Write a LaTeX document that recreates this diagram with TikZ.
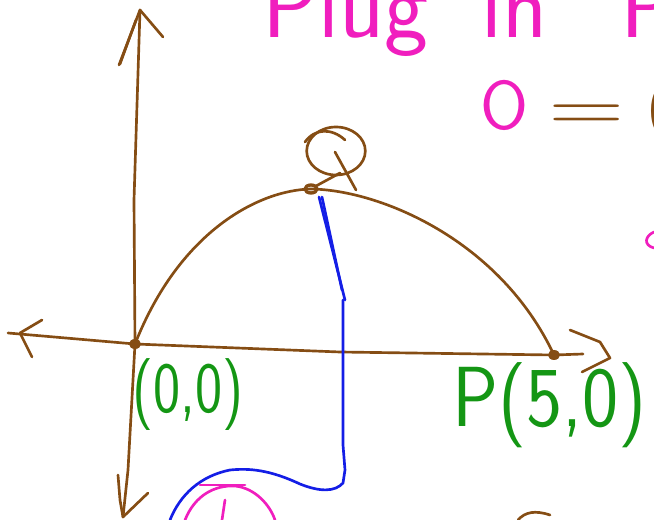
\documentclass[tikz,border=0pt]{standalone}
\usepackage{fontspec}
\setmainfont{Open Sans}
\usetikzlibrary{shapes.geometric}
\definecolor{ink}{RGB}{133,77,20}
\definecolor{grn}{RGB}{20,150,20}
\definecolor{mag}{RGB}{240,30,190}
\definecolor{blu}{RGB}{20,30,230}
\begin{document}
\begin{tikzpicture}[x=0.75pt,y=-0.75pt,
  pen/.style={draw=ink,line width=2pt,line cap=round,line join=round},
  bpen/.style={draw=blu,line width=2pt,line cap=round,line join=round},
  mpen/.style={draw=mag,line width=2pt,line cap=round,line join=round},
  hand/.style={inner sep=0pt,anchor=base west}]
\useasboundingbox (0,0) rectangle (654,520);
\clip (0,0) rectangle (654,520);
% axes
\coordinate (O) at (135,344);
\coordinate (P) at (554,355);
\coordinate (T) at (140,10);
\coordinate (B) at (123,517);
\coordinate (L) at (8,333);
\coordinate (R) at (583,354);
\coordinate (Qd) at (311,189);
\draw[pen] (B) -- (128,470) -- (133,380) -- (O) -- (134,200) -- (T);
\draw[pen] (119,65) -- (T) -- (163,37);
\draw[pen] (136,20) -- (120,64);
\draw[pen] (118,475) -- (120,500) -- (B) -- (148,493);
\draw[pen] (L) -- (O) -- (340,352) -- (P) -- (R);
\draw[pen] (42,320) -- (20,333) -- (32,357);
\draw[pen] (570,330) -- (600,342) -- (610,358) -- (582,372);
% parabola
\draw[pen] (O) .. controls (180,230) and (260,190) .. (Qd) .. controls (380,190) and (500,240) .. (P);
\fill[ink] (O) ellipse (6 and 5);
\fill[ink] (P) ellipse (6 and 5);
\draw[pen,line width=2.5pt] (Qd) ellipse (6 and 4);
% Q
\node[ellipse,draw=ink,line width=2pt,minimum width=44pt,minimum height=36pt,inner sep=0pt] (Qc) at (336,151) {};
\draw[pen] (305,142) .. controls (315,128) and (332,128) .. (345,140);
\draw[pen] (335,152) -- (356,190);
\draw[pen] (316,186) -- (340,173);
% blue drop
\draw[bpen] (319,197) -- (345,300);
\draw[bpen] (322,197) -- (342,290);
\draw[bpen] (343,300) -- (343,445) -- (345,470) -- (343,483) .. controls (335,492) and (320,492) .. (300,484) .. controls (270,470) and (250,468) .. (230,470) .. controls (200,476) and (180,495) .. (170,520);
% labels
\node[hand,text=grn,font=\fontsize{54}{54}\selectfont\sffamily,xscale=0.8] (l00) at (132,413) {(0,0)};
\node[hand,text=grn,font=\fontsize{64}{64}\selectfont\sffamily,xscale=0.9] (lP) at (452,427) {P(5,0)};
% top text
\node[inner sep=0pt,anchor=base west,text=mag,font=\fontsize{70}{70}\selectfont\sffamily] (plug) at (262,38) {Plug\hspace{40pt}in\hspace{55pt}P};
\node[hand,text=mag,font=\fontsize{52}{52}\selectfont\sffamily] (oo) at (480,130) {O};
\node[hand,text=ink,font=\fontsize{56}{56}\selectfont\sffamily,xscale=1.4] (eq) at (548,132) {=};
\node[hand,text=ink,font=\fontsize{40}{40}\selectfont\sffamily] (par) at (647,125) {(};
\draw[mpen] (654,232) .. controls (645,236) and (643,245) .. (654,248);
% bottom pieces
\draw[mpen] (185,520) .. controls (195,495) and (215,485) .. (235,486) .. controls (255,488) and (270,505) .. (275,520);
\draw[mpen] (200,485) -- (245,485);
\draw[mpen] (225,500) -- (222,520);
\draw[pen] (518,520) .. controls (525,512) and (535,510) .. (550,515);
\end{tikzpicture}
\end{document}
